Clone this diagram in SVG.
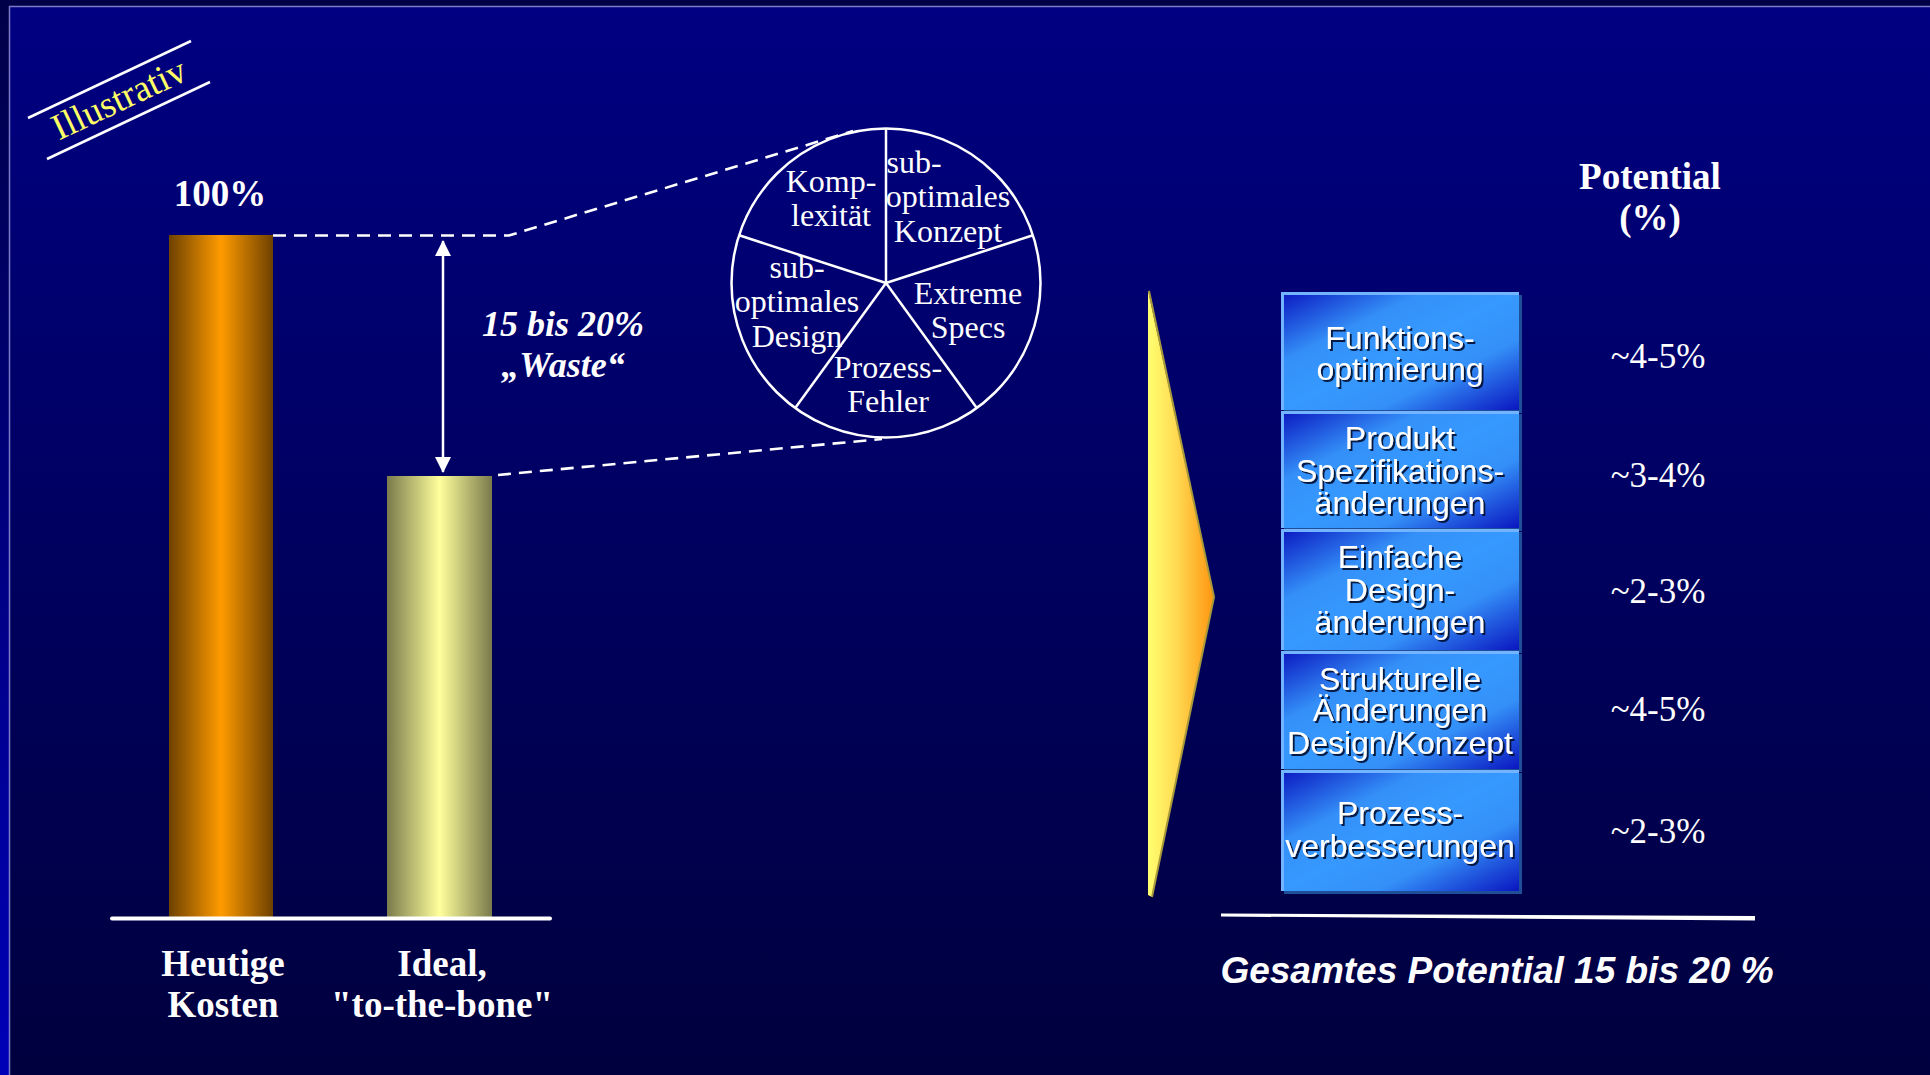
<svg xmlns="http://www.w3.org/2000/svg" width="1930" height="1075" viewBox="0 0 1930 1075">
<defs>
<linearGradient id="bgIn" x1="0" y1="0" x2="0" y2="1">
<stop offset="0" stop-color="#000082"/>
<stop offset="1" stop-color="#00003e"/>
</linearGradient>
<linearGradient id="bgLeft" x1="0" y1="0" x2="0" y2="1">
<stop offset="0" stop-color="#000048"/>
<stop offset="1" stop-color="#0000b8"/>
</linearGradient>
<linearGradient id="orange" x1="0" y1="0" x2="1" y2="0">
<stop offset="0" stop-color="#6e4100"/>
<stop offset="0.5" stop-color="#ff9b00"/>
<stop offset="1" stop-color="#6e4100"/>
</linearGradient>
<linearGradient id="yellow" x1="0" y1="0" x2="1" y2="0">
<stop offset="0" stop-color="#7a7a4c"/>
<stop offset="0.5" stop-color="#ffff9c"/>
<stop offset="1" stop-color="#7a7a4c"/>
</linearGradient>
<linearGradient id="tri" x1="0" y1="0" x2="1" y2="0">
<stop offset="0" stop-color="#ffff70"/>
<stop offset="0.45" stop-color="#ffd850"/>
<stop offset="1" stop-color="#ff9410"/>
</linearGradient>
<linearGradient id="boxg" x1="0" y1="0" x2="1" y2="1">
<stop offset="0" stop-color="#0a16c0"/>
<stop offset="0.3" stop-color="#3490f8"/>
<stop offset="0.5" stop-color="#3699ff"/>
<stop offset="0.7" stop-color="#3490f8"/>
<stop offset="1" stop-color="#0a16c0"/>
</linearGradient>
<filter id="ts" x="-10%" y="-20%" width="120%" height="150%">
<feDropShadow dx="2" dy="2" stdDeviation="0.6" flood-color="#000830" flood-opacity="0.9"/>
</filter>
<marker id="ah" viewBox="0 0 16 16" refX="15" refY="8" markerWidth="16" markerHeight="16" markerUnits="userSpaceOnUse" orient="auto-start-reverse">
<path d="M0,0 L16,8 L0,16 Z" fill="#ffffff"/>
</marker>
<style>
.ser{font-family:"Liberation Serif","Times New Roman",serif;fill:#ffffff}
.bold{font-weight:bold}
.lbl{font-size:37px;font-weight:bold;text-anchor:middle}
.pie{font-size:32px;text-anchor:middle}
.pct{font-size:35px;text-anchor:middle}
.box{font-family:"Liberation Sans",Arial,sans-serif;font-size:32px;fill:#ffffff;text-anchor:middle;filter:url(#ts)}
.dash{fill:none;stroke:#ffffff;stroke-width:2.6;stroke-dasharray:13 8}
.bshadow{fill:#1f4f98}
.bhi{stroke:#72b4ff;stroke-width:3}
</style>
</defs>

<g id="background">
<rect x="0" y="0" width="1930" height="1075" fill="#000048"/>
<rect x="0" y="0" width="9" height="1075" fill="url(#bgLeft)"/>
<rect x="9" y="6" width="1921" height="1069" fill="url(#bgIn)"/>
<line x1="9" y1="6.5" x2="1930" y2="6.5" stroke="#7c7cc6" stroke-width="1.5"/>
<line x1="9.5" y1="6" x2="9.5" y2="1075" stroke="#7c7cc6" stroke-width="1.5"/>
</g>

<g id="illustrativ">
<line x1="28" y1="118" x2="191" y2="41" stroke="#ffffff" stroke-width="2.5"/>
<line x1="47" y1="159" x2="210" y2="82" stroke="#ffffff" stroke-width="2.5"/>
<text class="ser" x="0" y="12" font-size="37" style="fill:#ffff66" text-anchor="middle" transform="translate(119,99) rotate(-25.3)">Illustrativ</text>
</g>

<g id="bar-heutige">
<rect x="169" y="235" width="104" height="683" fill="url(#orange)"/>
<text class="ser lbl" x="220" y="206">100%</text>
<text class="ser lbl" x="223" y="976">Heutige</text>
<text class="ser lbl" x="223" y="1017">Kosten</text>
</g>

<g id="bar-ideal">
<rect x="387" y="476" width="105" height="442" fill="url(#yellow)"/>
<text class="ser lbl" x="442" y="976">Ideal,</text>
<text class="ser lbl" x="442" y="1017">"to-the-bone"</text>
</g>

<g id="axis-left">
<line x1="112" y1="918.5" x2="550" y2="918.5" stroke="#ffffff" stroke-width="4" stroke-linecap="round"/>
</g>

<g id="waste-label">
<text class="ser bold" x="563" y="336" font-size="36" font-style="italic" text-anchor="middle">15 bis 20%</text>
<text class="ser bold" x="563" y="377" font-size="36" font-style="italic" text-anchor="middle">„Waste“</text>
</g>

<g id="pie">
<circle cx="886" cy="283" r="154.5" fill="none" stroke="#ffffff" stroke-width="2.5"/>
<g stroke="#ffffff" stroke-width="2.5">
<line x1="886" y1="283" x2="886" y2="128.5"/>
<line x1="886" y1="283" x2="1032.9" y2="235.3"/>
<line x1="886" y1="283" x2="976.8" y2="408"/>
<line x1="886" y1="283" x2="795.2" y2="408"/>
<line x1="886" y1="283" x2="739.1" y2="235.3"/>
</g>
<text class="ser pie" x="831" y="192">Komp-</text>
<text class="ser pie" x="831" y="226">lexität</text>
<text class="ser pie" x="914" y="173">sub-</text>
<text class="ser pie" x="948" y="207">optimales</text>
<text class="ser pie" x="948" y="242">Konzept</text>
<text class="ser pie" x="968" y="304">Extreme</text>
<text class="ser pie" x="968" y="338">Specs</text>
<text class="ser pie" x="888" y="378">Prozess-</text>
<text class="ser pie" x="888" y="412">Fehler</text>
<text class="ser pie" x="797" y="278">sub-</text>
<text class="ser pie" x="797" y="312">optimales</text>
<text class="ser pie" x="797" y="347">Design</text>
</g>

<g id="connectors">
<polyline class="dash" points="273,235.5 509,235.5 853,131"/>
<line class="dash" x1="498" y1="475" x2="882" y2="439"/>
<line x1="443" y1="241" x2="443" y2="472" stroke="#ffffff" stroke-width="2.5" marker-start="url(#ah)" marker-end="url(#ah)"/>
</g>

<g id="arrow-shape">
<polygon points="1148,290 1214,597 1152,897 1148,895" fill="url(#tri)"/>
<polyline points="1149,291 1214,597 1152,897" fill="none" stroke="#a89a3a" stroke-width="2"/>
</g>

<g id="potential-header">
<text class="ser lbl" x="1650" y="189">Potential</text>
<text class="ser lbl" x="1650" y="230">(%)</text>
</g>

<g id="box-1">
<rect class="bshadow" x="1284" y="295" width="238" height="118"/>
<rect x="1281" y="292" width="238" height="118" fill="url(#boxg)"/>
<line class="bhi" x1="1281" y1="293.5" x2="1519" y2="293.5"/>
<line class="bhi" x1="1282.5" y1="292" x2="1282.5" y2="410"/>
<text class="box" x="1400" y="349">Funktions-</text>
<text class="box" x="1400" y="380">optimierung</text>
<text class="ser pct" x="1658" y="368">~4-5%</text>
</g>

<g id="box-2">
<rect class="bshadow" x="1284" y="414" width="238" height="117"/>
<rect x="1281" y="411" width="238" height="117" fill="url(#boxg)"/>
<line class="bhi" x1="1281" y1="412.5" x2="1519" y2="412.5"/>
<line class="bhi" x1="1282.5" y1="411" x2="1282.5" y2="528"/>
<text class="box" x="1400" y="449">Produkt</text>
<text class="box" x="1400" y="482">Spezifikations-</text>
<text class="box" x="1400" y="514">änderungen</text>
<text class="ser pct" x="1658" y="487">~3-4%</text>
</g>

<g id="box-3">
<rect class="bshadow" x="1284" y="532" width="238" height="121"/>
<rect x="1281" y="529" width="238" height="121" fill="url(#boxg)"/>
<line class="bhi" x1="1281" y1="530.5" x2="1519" y2="530.5"/>
<line class="bhi" x1="1282.5" y1="529" x2="1282.5" y2="650"/>
<text class="box" x="1400" y="568">Einfache</text>
<text class="box" x="1400" y="601">Design-</text>
<text class="box" x="1400" y="633">änderungen</text>
<text class="ser pct" x="1658" y="603">~2-3%</text>
</g>

<g id="box-4">
<rect class="bshadow" x="1284" y="654" width="238" height="118"/>
<rect x="1281" y="651" width="238" height="118" fill="url(#boxg)"/>
<line class="bhi" x1="1281" y1="652.5" x2="1519" y2="652.5"/>
<line class="bhi" x1="1282.5" y1="651" x2="1282.5" y2="769"/>
<text class="box" x="1400" y="690">Strukturelle</text>
<text class="box" x="1400" y="721">Änderungen</text>
<text class="box" x="1400" y="754">Design/Konzept</text>
<text class="ser pct" x="1658" y="721">~4-5%</text>
</g>

<g id="box-5">
<rect class="bshadow" x="1284" y="773" width="238" height="121"/>
<rect x="1281" y="770" width="238" height="121" fill="url(#boxg)"/>
<line class="bhi" x1="1281" y1="771.5" x2="1519" y2="771.5"/>
<line class="bhi" x1="1282.5" y1="770" x2="1282.5" y2="891"/>
<text class="box" x="1400" y="824">Prozess-</text>
<text class="box" x="1400" y="857">verbesserungen</text>
<text class="ser pct" x="1658" y="843">~2-3%</text>
</g>

<g id="total">
<polygon points="1221,913.5 1755,916 1755,920.5 1221,916.5" fill="#ffffff"/>
<text x="1497" y="983" font-family="'Liberation Sans',Arial,sans-serif" font-size="37" font-weight="bold" font-style="italic" fill="#ffffff" text-anchor="middle">Gesamtes Potential 15 bis 20 %</text>
</g>
</svg>
